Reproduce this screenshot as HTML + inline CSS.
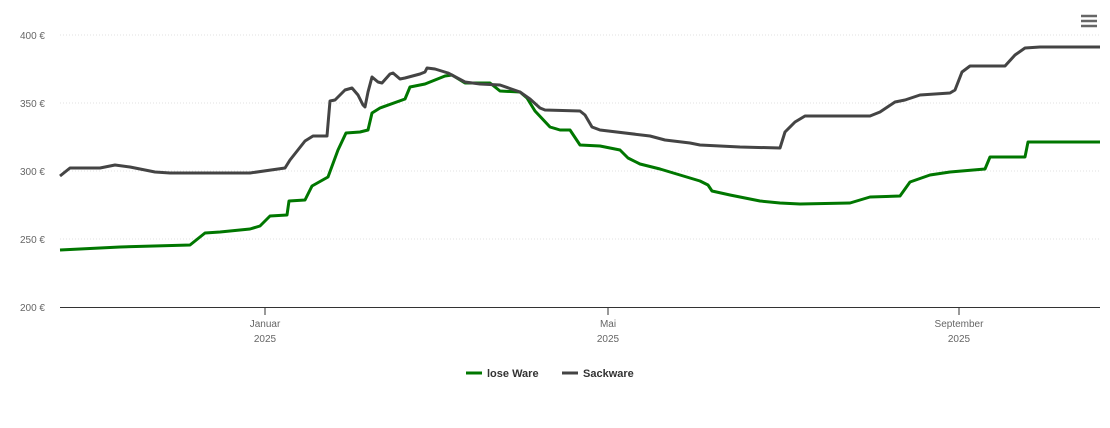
<!DOCTYPE html>
<html><head><meta charset="utf-8"><style>
body{margin:0;background:#fff;}
svg{font-family:"Liberation Sans",sans-serif;}
</style></head><body>
<svg width="1110" height="423" viewBox="0 0 1110 423">
<g stroke="#e0e0e0" stroke-dasharray="1,2">
<line x1="60" y1="35" x2="1100" y2="35"/><line x1="60" y1="103" x2="1100" y2="103"/>
<line x1="60" y1="171" x2="1100" y2="171"/><line x1="60" y1="239" x2="1100" y2="239"/>
</g>
<line x1="60" y1="307.5" x2="1100" y2="307.5" stroke="#333"/>
<g stroke="#333"><line x1="265" y1="307" x2="265" y2="315"/><line x1="608" y1="307" x2="608" y2="315"/><line x1="959" y1="307" x2="959" y2="315"/></g>
<g font-size="10" fill="#666" text-anchor="end">
<text x="45" y="39">400 €</text><text x="45" y="107">350 €</text><text x="45" y="175">300 €</text><text x="45" y="243">250 €</text><text x="45" y="311">200 €</text>
</g>
<g font-size="10" fill="#666" text-anchor="middle">
<text x="265" y="327">Januar</text><text x="265" y="342">2025</text>
<text x="608" y="327">Mai</text><text x="608" y="342">2025</text>
<text x="959" y="327">September</text><text x="959" y="342">2025</text>
</g>
<polyline fill="none" stroke="#007700" stroke-width="3" stroke-linejoin="round" points="60,250 120,247 190,245 195,241 205,233 220,232 250,229 260,226 270,216 287,215 289,201 305,200 312,186 328,177 338,150 346,133 360,132 368,130 372,113 380,108 405,99 410,87 425,84 445,76 452,75 465,83 490,83 500,91 520,92 527,98 535,111 550,127 560,130 570,130 580,145 600,146 620,150 628,158 640,164 660,169 700,181 708,185 712,191 730,195 760,201 780,203 800,204 850,203 870,197 900,196 910,182 930,175 950,172 985,169 990,157 1025,157 1028,142 1100,142"/>
<polyline fill="none" stroke="#444" stroke-width="3" stroke-linejoin="round" points="60,176 70,168 100,168 115,165 130,167 155,172 170,173 250,173 285,168 290,160 305,141 313,136 327,136 330,101 335,100 345,90 352,88 358,95 363,105 365,107 368,92 372,77 378,82 382,83 390,74 393,73 400,79 405,78 420,74 425,72 427,68 435,69 448,73 465,82 480,84 500,85 520,92 530,99 540,108 545,110 580,111 585,115 592,127 600,130 650,136 665,140 690,143 700,145 740,147 780,148 785,132 795,122 805,116 870,116 880,112 895,102 905,100 920,95 950,93 955,90 962,72 970,66 1005,66 1015,55 1025,48 1040,47 1100,47"/>
<g stroke="#666" stroke-width="2.5"><line x1="1081" y1="16" x2="1097" y2="16"/><line x1="1081" y1="21" x2="1097" y2="21"/><line x1="1081" y1="26" x2="1097" y2="26"/></g>
<line x1="466" y1="373" x2="482" y2="373" stroke="#007700" stroke-width="3"/>
<text x="487" y="377" font-size="11" font-weight="bold" fill="#333">lose Ware</text>
<line x1="562" y1="373" x2="578" y2="373" stroke="#444" stroke-width="3"/>
<text x="583" y="377" font-size="11" font-weight="bold" fill="#333">Sackware</text>
</svg>
</body></html>
